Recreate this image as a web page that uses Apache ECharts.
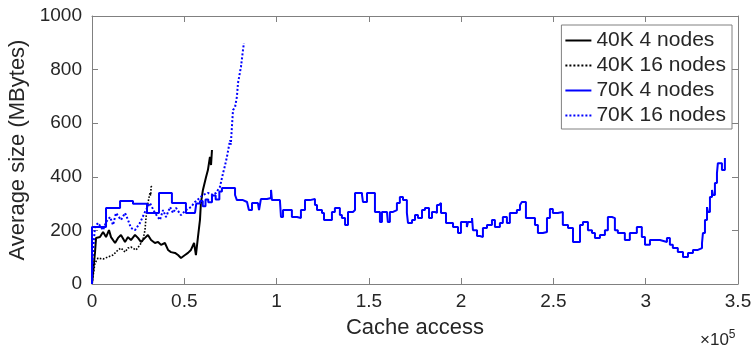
<!DOCTYPE html>
<html>
<head>
<meta charset="utf-8">
<script src="https://cdn.jsdelivr.net/npm/echarts@6/dist/echarts.min.js"></script>
<style>
  html, body { margin: 0; padding: 0; background: #fff; }
  #chart { width: 756px; height: 349px; }
</style>
</head>
<body>
<div id="chart"></div>
<script>
  // x in units of 1e5 cache accesses, y in MBytes
  const xTicks = [0, 0.5, 1, 1.5, 2, 2.5, 3, 3.5]
  const yTicks = [0, 200, 400, 600, 800, 1000]
  const seriesNames = ['40K 4 nodes', '40K 16 nodes', '70K 4 nodes', '70K 16 nodes']

  const k40n4 = [
    [0,0],[0.005,4],[0.016,116],[0.022,172],[0.043,175],[0.06,194],[0.076,175],[0.092,201],
    [0.103,175],[0.125,153],[0.141,172],[0.157,183],[0.179,157],[0.195,175],[0.211,164],
    [0.233,183],[0.249,172],[0.265,157],[0.287,172],[0.303,183],[0.32,164],[0.341,153],
    [0.358,157],[0.374,146],[0.395,153],[0.412,127],[0.428,119],[0.45,116],[0.466,108],
    [0.482,97],[0.504,108],[0.52,116],[0.536,127],[0.553,153],[0.563,108],[0.574,175],
    [0.585,239],[0.59,302],[0.601,351],[0.618,399],[0.628,425],[0.639,474],[0.645,444],[0.65,500]
  ]
  const k40n16 = [
    [0,0],[0.005,26],[0.016,78],[0.033,97],[0.06,93],[0.087,101],[0.114,108],[0.141,127],
    [0.157,134],[0.179,119],[0.195,134],[0.211,138],[0.238,127],[0.26,146],[0.276,164],
    [0.287,201],[0.293,250],[0.303,302],[0.314,340],[0.318,330],[0.32,362],[0.325,366]
  ]
  const k70n4 = [
    [0,0],[0,213],[0.076,213],[0.076,284],[0.152,284],[0.152,310],[0.222,310],[0.222,299],
    [0.298,299],[0.298,265],[0.363,265],[0.363,340],[0.433,340],[0.433,302],[0.509,302],
    [0.509,265],[0.558,265],[0.565,300],[0.585,310],[0.6,290],[0.615,315],[0.63,305],
    [0.65,330],[0.67,315],[0.69,345],[0.704,358],[0.764,358],[0.775,332],[0.785,313],
    [0.818,306],[0.84,302],[0.85,276],[0.867,302],[0.899,302],[0.905,276],[0.915,317],
    [0.948,321],[0.97,351],[0.975,313],[1.018,306],[1.024,250],[1.035,276],[1.067,276],
    [1.083,250],[1.111,246],[1.132,276],[1.154,313],[1.181,317],[1.208,295],[1.219,276],
    [1.246,265],[1.257,239],[1.3,269],[1.316,284],[1.343,257],[1.354,246],[1.371,220],
    [1.387,269],[1.414,276],[1.425,340],[1.463,332],[1.468,306],[1.49,340],[1.517,340],
    [1.533,269],[1.549,269],[1.56,231],[1.571,269],[1.598,265],[1.603,231],[1.614,269],
    [1.631,276],[1.652,302],[1.668,325],[1.685,313],[1.706,265],[1.712,228],[1.734,239],
    [1.75,257],[1.766,246],[1.788,276],[1.804,284],[1.826,246],[1.842,269],[1.858,265],
    [1.869,295],[1.88,302],[1.891,265],[1.918,228],[1.939,228],[1.956,213],[1.983,190],
    [1.999,231],[2.015,231],[2.031,213],[2.037,231],[2.059,246],[2.064,201],[2.086,179],
    [2.102,175],[2.118,209],[2.14,220],[2.167,239],[2.183,213],[2.21,228],[2.226,250],
    [2.248,228],[2.264,265],[2.302,276],[2.319,295],[2.329,306],[2.351,246],[2.384,246],
    [2.4,220],[2.416,190],[2.443,194],[2.465,246],[2.481,280],[2.497,265],[2.524,269],
    [2.551,220],[2.579,209],[2.606,157],[2.627,157],[2.644,220],[2.66,231],[2.687,201],
    [2.709,190],[2.725,172],[2.752,183],[2.779,201],[2.795,250],[2.817,246],[2.833,201],
    [2.849,190],[2.887,164],[2.914,190],[2.952,213],[2.979,175],[2.996,146],[3.023,164],
    [3.05,164],[3.077,157],[3.115,172],[3.131,146],[3.147,134],[3.174,119],[3.202,101],
    [3.229,116],[3.256,127],[3.283,134],[3.305,153],[3.31,190],[3.321,239],[3.332,287],
    [3.337,269],[3.348,325],[3.359,351],[3.364,332],[3.375,377],[3.386,414],[3.391,451],
    [3.413,425],[3.429,470]
  ]
  const k70n16 = [
    [0,0],[0.005,116],[0.016,213],[0.033,228],[0.06,201],[0.076,231],[0.098,250],[0.114,220],
    [0.13,265],[0.157,239],[0.179,265],[0.195,239],[0.211,209],[0.233,201],[0.26,228],
    [0.287,269],[0.314,302],[0.341,265],[0.368,239],[0.385,276],[0.401,250],[0.423,287],
    [0.439,265],[0.455,284],[0.482,257],[0.509,276],[0.536,287],[0.558,306],[0.601,332],
    [0.628,340],[0.655,332],[0.672,340],[0.693,362],[0.71,414],[0.72,440],[0.731,474],
    [0.748,537],[0.752,520],[0.758,586],[0.764,649],[0.775,660],[0.785,698],[0.791,750],
    [0.807,810],[0.818,873],[0.823,899]
  ]

  const font = 'Liberation Sans, Arial, sans-serif'
  const ink = '#262626'
  const frame = '#808080'

  const chart = echarts.init(document.getElementById('chart'))

  function frameAxis(extra) {
    return Object.assign({
      type: 'value',
      axisLine: { show: true, onZero: false, lineStyle: { color: frame, width: 1 } },
      axisTick: { show: true, inside: true, length: 6, lineStyle: { color: frame } },
      splitLine: { show: false }
    }, extra)
  }

  chart.setOption({
    animation: false,
    grid: { left: 92, right: 18, top: 16, bottom: 65, containLabel: false, outerBoundsMode: 'none' },
    xAxis: [
      frameAxis({
        position: 'bottom',
        min: xTicks[0], max: xTicks[xTicks.length - 1], interval: 0.5,
        name: 'Cache access', nameLocation: 'middle', nameGap: 33,
        nameTextStyle: { fontFamily: font, fontSize: 22, color: ink },
        axisLabel: { margin: 8, fontFamily: font, fontSize: 19, color: ink }
      }),
      frameAxis({
        position: 'top',
        min: xTicks[0], max: xTicks[xTicks.length - 1], interval: 0.5,
        axisLabel: { show: false }
      })
    ],
    yAxis: [
      frameAxis({
        position: 'left',
        min: yTicks[0], max: yTicks[yTicks.length - 1], interval: 200,
        name: 'Average size (MBytes)', nameLocation: 'middle', nameGap: 48,
        nameTextStyle: { fontFamily: font, fontSize: 22, color: ink },
        axisLabel: { margin: 10, fontFamily: font, fontSize: 19, color: ink,
          formatter: v => String(v) }
      }),
      frameAxis({
        position: 'right',
        min: yTicks[0], max: yTicks[yTicks.length - 1], interval: 200,
        axisLabel: { show: false }
      })
    ],
    legend: {
      orient: 'vertical',
      right: 24,
      top: 25,
      data: seriesNames,
      itemWidth: 26,
      itemHeight: 10,
      itemGap: 4,
      padding: [5, 6, 3, 3],
      backgroundColor: '#fff',
      borderColor: frame,
      borderWidth: 1,
      itemStyle: { opacity: 0, borderWidth: 0 },
      textStyle: { fontFamily: font, fontSize: 21, color: ink, lineHeight: 21 }
    },
    graphic: [{
      type: 'text',
      left: 700,
      top: 329,
      style: {
        text: '{a|×10}{b|5}',
        fill: ink,
        rich: {
          a: { fontFamily: font, fontSize: 17, lineHeight: 20, verticalAlign: 'bottom' },
          b: { fontFamily: font, fontSize: 12, lineHeight: 20, verticalAlign: 'top' }
        }
      }
    }],
    series: [
      { name: seriesNames[0], type: 'line', data: k40n4, symbol: 'none',
        lineStyle: { color: '#000', width: 2 }, itemStyle: { color: '#000' } },
      { name: seriesNames[1], type: 'line', data: k40n16, symbol: 'none',
        lineStyle: { color: '#000', width: 1.6, type: 'dotted' }, itemStyle: { color: '#000' } },
      { name: seriesNames[2], type: 'line', data: k70n4, symbol: 'none', step: 'end',
        lineStyle: { color: '#0000ff', width: 2 }, itemStyle: { color: '#0000ff' } },
      { name: seriesNames[3], type: 'line', data: k70n16, symbol: 'none',
        lineStyle: { color: '#0000ff', width: 2, type: 'dotted' }, itemStyle: { color: '#0000ff' } }
    ]
  })
</script>
</body>
</html>
